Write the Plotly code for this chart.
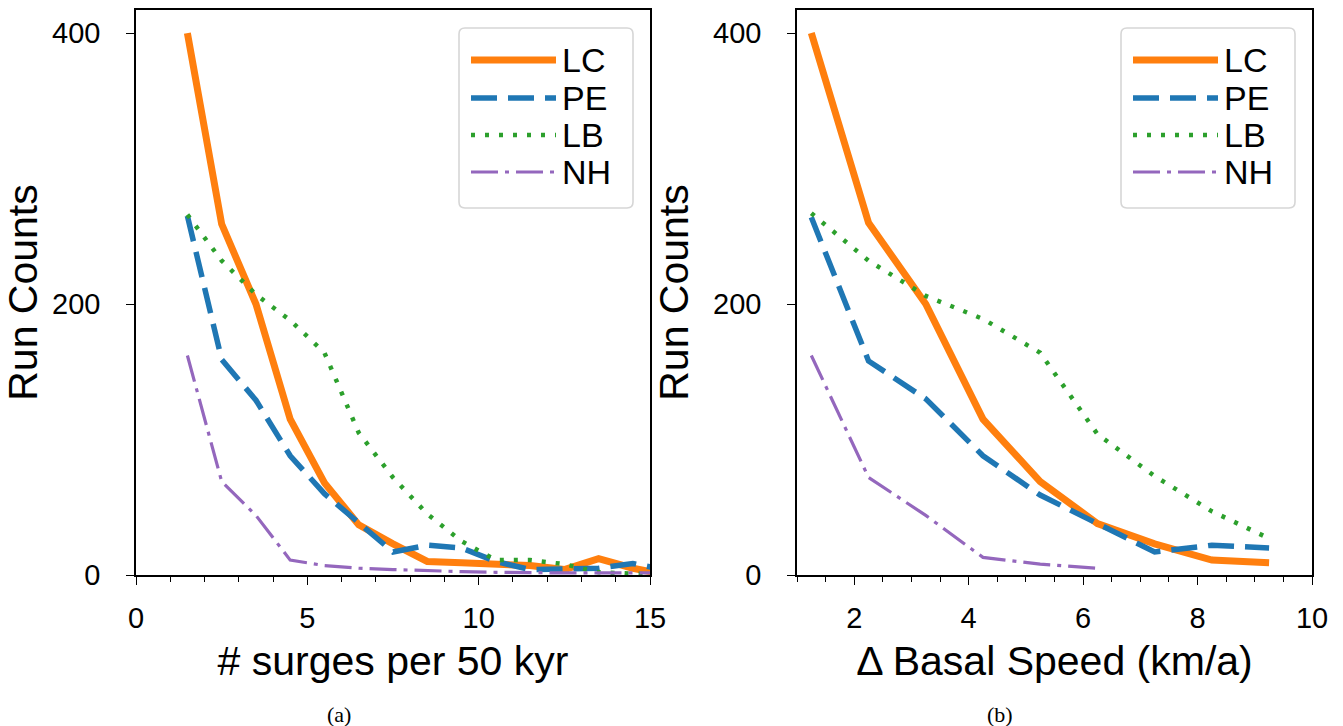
import plotly.graph_objects as go

# ---------------- data ----------------
series_names = ["LC", "PE", "LB", "NH"]

# (a) number of surges per 50 kyr
x_a = [1.5, 2.5, 3.5, 4.5, 5.5, 6.5, 7.5, 8.5, 9.5, 10.5, 11.5, 12.5, 13.5, 14.5, 15.5]
lc_a = [400, 259, 200, 115, 68, 37, 23, 10, 9, 8, 7, 4, 12, 5, 0]
pe_a = [265, 159, 129, 88, 60, 38, 17, 22, 20, 10, 4, 4.5, 5, 8.5, 3.5]
lb_a = [266, 232, 207, 188, 164, 105, 72, 45, 25, 11, 11, 8, 2, 1, 0]
nh_a = [162, 69, 44, 11, 7, 5, 4, 3, 2.5, 2, 1.5, 1.5, 1.5, 1.5, 1.5]

# (b) delta basal speed (km/a)
x_b = [1.25, 2.25, 3.25, 4.25, 5.25, 6.25, 7.25, 8.25, 9.25]
lc_b = [400, 260, 200, 115, 69, 38, 23, 11, 9]
pe_b = [264, 158, 130, 88, 59, 38, 17, 22, 20]
lb_b = [267, 232, 206, 189, 164, 104, 73, 47, 27]
nh_b = [162, 72, 44, 13, 8, 5, None, None, None]

x_ticks_a = [0, 5, 10, 15]
x_ticks_b = [2, 4, 6, 8, 10]
y_ticks = [0, 200, 400]

x_title_a = "# surges per 50 kyr"
x_title_b = "Δ Basal Speed (km/a)"
y_title = "Run Counts"
captions = ["(a)", "(b)"]

# ---------------- styles ----------------
colors = {"LC": "#ff7f0e", "PE": "#1f77b4", "LB": "#2ca02c", "NH": "#9467bd"}
widths = {"LC": 7, "PE": 5.5, "LB": 4.5, "NH": 3.2}
dashes = {"LC": "solid", "PE": "26px,11px", "LB": "4px,10px", "NH": "27px,7px,4px,7px"}

W, H = 1343, 726
ML, MR, MT, MB = 136, 31, 10, 151
PW = W - ML - MR
PH = H - MT - MB
SANS = "Liberation Sans, Arial, Helvetica, sans-serif"
SERIF = "Liberation Serif, Times New Roman, serif"

fig = go.Figure()
for (xs, ys_list, xa, ya) in [
    (x_a, [lc_a, pe_a, lb_a, nh_a], "x", "y"),
    (x_b, [lc_b, pe_b, lb_b, nh_b], "x2", "y2"),
]:
    for name, ys in zip(series_names, ys_list):
        fig.add_trace(go.Scatter(
            x=xs, y=ys, mode="lines", name=name, showlegend=False,
            xaxis=xa, yaxis=ya,
            line=dict(color=colors[name], width=widths[name], dash=dashes[name]),
        ))

def px2dom_x(px0, px1):
    return [(px0 - ML) / PW, (px1 - ML) / PW]

dom_a = px2dom_x(136, 650)
dom_b = px2dom_x(797, 1312)

axis_common = dict(
    showline=True, linecolor="black", linewidth=1.5, mirror=True,
    ticks="outside", ticklen=8, tickwidth=1.4, tickcolor="black",
    showgrid=False, zeroline=False,
    tickfont=dict(family=SANS, size=29, color="black"),
    title_font=dict(family=SANS, size=41, color="black"),
)

fig.update_layout(
    width=W, height=H,
    margin=dict(l=ML, r=MR, t=MT, b=MB, autoexpand=False),
    paper_bgcolor="white", plot_bgcolor="white",
    showlegend=False,
    xaxis=dict(domain=dom_a, range=[0, 15], tickvals=x_ticks_a, anchor="y",
               minor=dict(dtick=1, tick0=0, ticks="outside", ticklen=5, tickwidth=1.2, tickcolor="black"),
               title=dict(text=x_title_a, standoff=14), ticklabelstandoff=8, **axis_common),
    yaxis=dict(domain=[0, 1], range=[0, 417], tickvals=y_ticks, anchor="x",
               title=dict(text=y_title, standoff=12), ticklabelstandoff=20, **axis_common),
    xaxis2=dict(domain=dom_b, range=[1, 10], tickvals=x_ticks_b, anchor="y2",
                minor=dict(dtick=0.5, tick0=0, ticks="outside", ticklen=5, tickwidth=1.2, tickcolor="black"),
                title=dict(text=x_title_b, standoff=14), ticklabelstandoff=8, **axis_common),
    yaxis2=dict(domain=[0, 1], range=[0, 417], tickvals=y_ticks, anchor="x2",
                title=dict(text=y_title, standoff=12), ticklabelstandoff=20, **axis_common),
)

# ---------------- legends (drawn in each panel) ----------------
def legend_for(xref, yref, width_px):
    def dx(px_from_right):
        return 1 - px_from_right / width_px
    def dy(py):
        return (575 - py) / PH
    # rounded box (path in domain coordinates)
    x0, x1, y0, y1 = dx(191), dx(17), dy(208), dy(28)
    rx, ry = 6 / width_px, 6 / PH
    path = (f"M{x0+rx},{y1} L{x1-rx},{y1} Q{x1},{y1} {x1},{y1-ry} "
            f"L{x1},{y0+ry} Q{x1},{y0} {x1-rx},{y0} L{x0+rx},{y0} "
            f"Q{x0},{y0} {x0},{y0+ry} L{x0},{y1-ry} Q{x0},{y1} {x0+rx},{y1} Z")
    fig.add_shape(type="path", xref=xref, yref=yref, path=path,
                  line=dict(color="#d6d6d6", width=1.6), fillcolor="rgba(255,255,255,0.85)", layer="above")
    rows = [60, 98, 135, 172]
    for name, rpy in zip(series_names, rows):
        fig.add_shape(type="line", xref=xref, yref=yref,
                      x0=dx(179), x1=dx(94), y0=dy(rpy), y1=dy(rpy),
                      line=dict(color=colors[name], width=widths[name], dash=dashes[name]), layer="above")
        fig.add_annotation(xref=xref, yref=yref, x=dx(90), y=dy(rpy), text=name, showarrow=False,
                           xanchor="left", yanchor="middle",
                           font=dict(family=SANS, size=34, color="black"))

legend_for("x domain", "y domain", 514)
legend_for("x2 domain", "y2 domain", 515)

for cap, cx in zip(captions, [339, 1000]):
    fig.add_annotation(xref="paper", yref="paper", x=(cx - ML) / PW, y=(575 - 714) / PH,
                       text=cap, showarrow=False, xanchor="center", yanchor="middle",
                       font=dict(family=SERIF, size=22, color="black"))

fig.write_html("out.html", config={"displayModeBar": False},
               post_script="document.body.style.margin='0';")
